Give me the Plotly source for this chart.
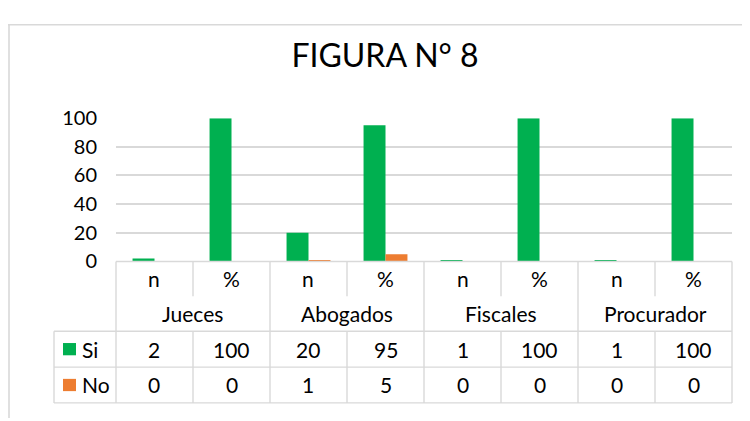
import plotly.graph_objects as go

# ---- data ----
groups = ["Jueces", "Abogados", "Fiscales", "Procurador"]
sub_labels = ["n", "%", "n", "%", "n", "%", "n", "%"]
series_names = ["Si", "No"]
si_values = [2, 100, 20, 95, 1, 100, 1, 100]
no_values = [0, 0, 1, 5, 0, 0, 0, 0]
y_ticks = [0, 20, 40, 60, 80, 100]

colors = {"Si": "#00B050", "No": "#ED7D31"}
grid_col = "#D9D9D9"
FONT = "Lato"
W, H = 750, 421
OFF = 8  # page offset of the figure inside the browser

def px(x):
    return (x - OFF) / W

def py(y):
    return 1 - (y - OFF) / H

# plot area in (screen) pixels
PL, PR, PT, PB = 116, 732, 111, 263
xdom = [px(PL), px(PR)]
ydom = [py(PB), py(PT)]
ncol = len(sub_labels)

def col_x(k):
    return xdom[0] + k * (xdom[1] - xdom[0]) / ncol

rows = [263, 300, 337, 375, 413]
leg_left = px(54)

xs = list(range(ncol))
fig = go.Figure()
fig.add_trace(go.Bar(x=xs, y=si_values, name="Si", marker_color=colors["Si"], marker_line_width=0))
fig.add_trace(go.Bar(x=xs, y=no_values, name="No", marker_color=colors["No"], marker_line_width=0))

shapes = []
def line(x0, y0, x1, y1, width=1.4):
    shapes.append(dict(type="line", xref="paper", yref="paper", x0=x0, y0=y0, x1=x1, y1=y1,
                       line=dict(color=grid_col, width=width), layer="above"))

# outer chart border
line(px(6), py(12), 1.0, py(12), 1.6)
line(px(9), py(12), px(9), 0, 1.6)

# table horizontal lines
line(col_x(0), py(rows[0]), col_x(ncol), py(rows[0]))
for r in rows[2:]:
    line(leg_left, py(r), col_x(ncol), py(r))
line(leg_left, py(rows[2]), leg_left, py(rows[4]))
for k in range(ncol + 1):
    if k % 2 == 0:
        line(col_x(k), py(rows[0]), col_x(k), py(rows[4]))
    else:
        line(col_x(k), py(rows[0]), col_x(k), py(rows[1]))
        line(col_x(k), py(rows[2]), col_x(k), py(rows[4]))

annotations = []
def txt(x, y, s, xanchor="center"):
    annotations.append(dict(xref="paper", yref="paper", x=x, y=y, text=s, showarrow=False,
                            xanchor=xanchor, yanchor="middle",
                            font=dict(family=FONT, size=21, color="#000000")))

def rmid(i):
    return py((rows[i] + rows[i + 1]) / 2)

for k, lab in enumerate(sub_labels):
    cx = (col_x(k) + col_x(k + 1)) / 2
    txt(cx, rmid(0), lab)
    txt(cx, rmid(2), str(si_values[k]))
    txt(cx, rmid(3), str(no_values[k]))
for g, name in enumerate(groups):
    cx = (col_x(2 * g) + col_x(2 * g + 2)) / 2
    txt(cx, rmid(1), name)

for i, name in enumerate(series_names):
    ymid_px = (rows[2 + i] + rows[3 + i]) / 2
    shapes.append(dict(type="rect", xref="paper", yref="paper",
                       x0=px(63), x1=px(76), y0=py(ymid_px + 6.5), y1=py(ymid_px - 6.5),
                       fillcolor=colors[name], line=dict(width=0), layer="above"))
    txt(px(80), rmid(2 + i), name, xanchor="left")

fig.update_layout(
    width=W, height=H,
    margin=dict(l=0, r=0, t=0, b=0),
    paper_bgcolor="white", plot_bgcolor="white",
    showlegend=False,
    barmode="group", bargap=0.43, bargroupgap=0,
    title=dict(text="FIGURA N° 8", x=px(385), y=py(56), xanchor="center", yanchor="middle",
               font=dict(family=FONT, size=32, color="#000000")),
    xaxis=dict(domain=xdom, range=[-0.5, ncol - 0.5], showticklabels=False, showgrid=False,
               zeroline=False, showline=False),
    yaxis=dict(domain=ydom, range=[0, 100], tickvals=y_ticks, showgrid=True, gridcolor=grid_col,
               gridwidth=1.5, zeroline=False, showline=False, ticklabelstandoff=18,
               tickfont=dict(family=FONT, size=20, color="#000000")),
    shapes=shapes, annotations=annotations,
)

fig.write_html("out.html")
